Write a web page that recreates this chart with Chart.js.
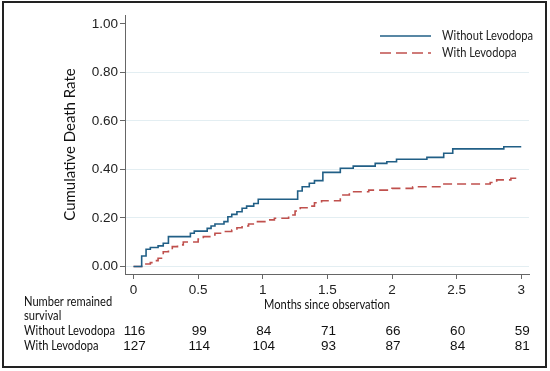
<!DOCTYPE html>
<html>
<head>
<meta charset="utf-8">
<script src="https://cdn.jsdelivr.net/npm/chart.js@4/dist/chart.umd.min.js"></script>
<style>
  body { margin: 0; background: #fff; }
  #wrap { position: relative; width: 550px; height: 371px; }
  #frame { position: absolute; left: 2px; top: 1px; width: 541px; height: 363px; border: 2px solid #222; pointer-events: none; }
</style>
</head>
<body>
<div id="wrap">
  <canvas id="kmChart" width="550" height="371"></canvas>
  <div id="frame"></div>
</div>
<script>
// months where each curve steps, and the cumulative death rate after the step
const withoutMonths = [0, 0.063, 0.097, 0.13, 0.19, 0.23, 0.27, 0.44, 0.47, 0.57, 0.60, 0.63, 0.70, 0.73, 0.76, 0.80, 0.84, 0.875, 0.93, 0.965, 1.27, 1.305, 1.36, 1.40, 1.465, 1.60, 1.70, 1.87, 1.96, 2.035, 2.27, 2.40, 2.47, 2.865, 3.0];
const withoutRate = [0, 0.043, 0.071, 0.078, 0.085, 0.096, 0.123, 0.137, 0.146, 0.157, 0.167, 0.175, 0.185, 0.205, 0.215, 0.226, 0.240, 0.249, 0.260, 0.277, 0.311, 0.329, 0.343, 0.354, 0.388, 0.405, 0.414, 0.425, 0.432, 0.442, 0.450, 0.467, 0.485, 0.494, 0.494];

const withMonths = [0, 0.063, 0.075, 0.13, 0.166, 0.19, 0.23, 0.27, 0.30, 0.34, 0.385, 0.50, 0.54, 0.59, 0.63, 0.68, 0.76, 0.80, 0.84, 0.89, 0.95, 1.03, 1.09, 1.20, 1.25, 1.29, 1.35, 1.40, 1.455, 1.60, 1.62, 1.67, 1.82, 2.00, 2.16, 2.38, 2.76, 2.81, 2.92, 3.0];
const withRate = [0, 0.006, 0.010, 0.016, 0.024, 0.034, 0.061, 0.068, 0.082, 0.089, 0.101, 0.113, 0.123, 0.130, 0.137, 0.144, 0.150, 0.160, 0.167, 0.175, 0.185, 0.192, 0.199, 0.212, 0.229, 0.242, 0.249, 0.263, 0.271, 0.285, 0.295, 0.308, 0.315, 0.322, 0.329, 0.340, 0.346, 0.357, 0.364, 0.364];

const xTicks = [0, 0.5, 1, 1.5, 2, 2.5, 3];
const yTicks = [0, 0.2, 0.4, 0.6, 0.8, 1.0];

// number at risk table
const riskTitle = ['Number remained', 'survival'];
const riskLabels = ['Without Levodopa', 'With Levodopa'];
const riskWithout = [116, 99, 84, 71, 66, 60, 59];
const riskWith = [127, 114, 104, 93, 87, 84, 81];

const blue = '#215f86';
const red = '#c0504d';
const calibriLike = 'Lato, "Open Sans", sans-serif';
const arialLike = '"Liberation Sans", Arial, sans-serif';

const toXY = (xs, ys) => xs.map((x, i) => ({ x: x, y: ys[i] }));

// Lato is wider than the original narrow font, squeeze it a bit
function narrowText(ctx, text, x, y, k) {
    const w = ctx.measureText(text).width;
    ctx.fillText(text, x, y, w * k);
}

const extras = {
    id: 'extras',
    afterDraw(chart) {
        const ctx = chart.ctx;
        const x = chart.scales.x;
        ctx.save();
        ctx.font = '13px ' + calibriLike;
        const k = 91 / ctx.measureText('Without Levodopa').width;
        ctx.textBaseline = 'middle';

        // legend
        const items = [
            { label: 'Without Levodopa', color: blue, dash: [], y: 36 },
            { label: 'With Levodopa', color: red, dash: [11, 5], y: 53 }
        ];
        items.forEach(it => {
            ctx.strokeStyle = it.color;
            ctx.lineWidth = 1.5;
            ctx.setLineDash(it.dash);
            ctx.beginPath();
            ctx.moveTo(380, it.y);
            ctx.lineTo(431, it.y);
            ctx.stroke();
            ctx.setLineDash([]);
            ctx.fillStyle = '#222';
            ctx.textAlign = 'left';
            narrowText(ctx, it.label, 442, it.y, k);
        });

        // x axis title
        ctx.fillStyle = '#111';
        ctx.textAlign = 'center';
        narrowText(ctx, 'Months since observation', (x.left + x.right) / 2, 305, k);

        // risk table
        ctx.textAlign = 'left';
        narrowText(ctx, riskTitle[0], 24, 302, k);
        narrowText(ctx, riskTitle[1], 24, 316, k);
        narrowText(ctx, riskLabels[0], 24, 331, k);
        narrowText(ctx, riskLabels[1], 24, 346, k);
        ctx.font = '13.5px ' + arialLike;
        ctx.textAlign = 'center';
        xTicks.forEach((t, i) => {
            const px = x.getPixelForValue(t) + 1;
            ctx.fillText(String(riskWithout[i]), px, 331);
            ctx.fillText(String(riskWith[i]), px, 346);
        });
        ctx.restore();
    }
};

new Chart(document.getElementById('kmChart'), {
    type: 'line',
    data: {
        datasets: [
            {
                label: 'Without Levodopa',
                data: toXY(withoutMonths, withoutRate),
                borderColor: blue,
                borderWidth: 1.6,
                stepped: 'before',
                pointRadius: 0,
                fill: false
            },
            {
                label: 'With Levodopa',
                data: toXY(withMonths, withRate),
                borderColor: red,
                borderWidth: 1.6,
                borderDash: [9, 5],
                stepped: 'before',
                pointRadius: 0,
                fill: false
            }
        ]
    },
    options: {
        responsive: false,
        animation: false,
        devicePixelRatio: 1,
        layout: { padding: { top: 15, right: 21, left: 0, bottom: 0 } },
        plugins: {
            legend: { display: false },
            tooltip: { enabled: false }
        },
        scales: {
            x: {
                type: 'linear',
                min: -0.066,
                max: 3.06,
                afterFit: s => { s.height = 97; },
                afterBuildTicks: s => { s.ticks = xTicks.map(v => ({ value: v })); },
                border: { color: '#666', width: 1 },
                grid: { drawOnChartArea: false, drawTicks: true, tickLength: 5, tickColor: '#666' },
                ticks: {
                    padding: 3,
                    maxRotation: 0,
                    color: '#222',
                    font: { family: arialLike, size: 13.5 },
                    callback: v => String(v)
                },
                title: { display: false }
            },
            y: {
                type: 'linear',
                min: -0.031,
                max: 1.037,
                afterFit: s => { s.width = 125; },
                afterBuildTicks: s => { s.ticks = yTicks.map(v => ({ value: v })); },
                border: { color: '#666', width: 1 },
                grid: {
                    color: ctx => (ctx.tick && ctx.tick.value === 1 ? 'rgba(0,0,0,0)' : '#e3eef2'),
                    tickLength: 5,
                    tickColor: '#666'
                },
                ticks: {
                    padding: 2,
                    color: '#222',
                    font: { family: arialLike, size: 13.5 },
                    callback: v => Number(v).toFixed(2)
                },
                title: {
                    display: true,
                    text: 'Cumulative Death Rate',
                    color: '#111',
                    font: { family: calibriLike, size: 15 },
                    padding: { top: 61, bottom: 0 }
                }
            }
        }
    },
    plugins: [extras]
});
</script>
</body>
</html>
